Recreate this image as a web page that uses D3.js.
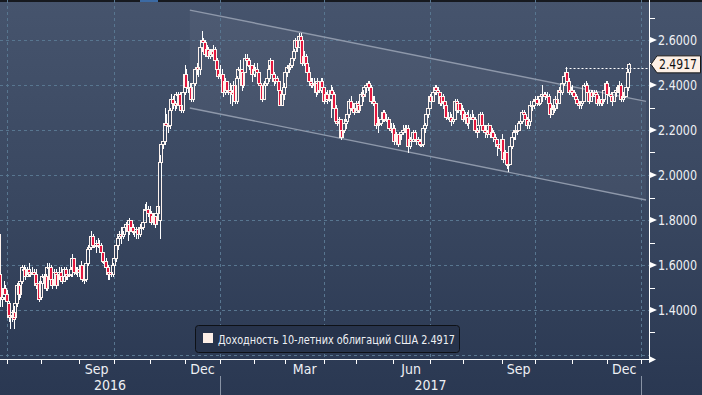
<!DOCTYPE html>
<html><head><meta charset="utf-8">
<script src="https://cdn.jsdelivr.net/npm/d3@7"></script>
<style>
html,body{margin:0;padding:0;background:#33415b;overflow:hidden}
svg{display:block}
text{font-family:"Liberation Sans Narrow","Arial Narrow","DejaVu Sans Condensed","Liberation Sans",sans-serif}
</style></head><body>
<svg id="chart" width="702" height="395"></svg>
<script>
// ---------- calendar (trading days) ----------
const firstDay = "2016-06-24";
const lastCalendarDay = "2018-01-05";
const holidays = ["2016-07-04","2016-09-05","2016-11-24","2016-12-26","2017-01-02","2017-01-16",
  "2017-02-20","2017-04-14","2017-05-29","2017-07-04","2017-09-04","2017-11-23","2017-12-25","2018-01-01"];

// ---------- daily OHLC, Jun 24 2016 .. Dec 20 2017 (one line per month) ----------
const openVals = [
1.74,1.56,1.45,1.46,1.50,
1.47,1.43,1.37,1.38,1.39,1.37,1.43,1.51,1.47,1.53,1.58,1.58,1.55,1.58,1.56,1.57,1.57,1.56,1.51,1.52,
1.46,1.52,1.55,1.55,1.50,1.59,1.59,1.54,1.51,1.57,1.51,1.56,1.57,1.55,1.53,1.58,1.55,1.56,1.56,1.58,1.63,1.57,1.57,
1.58,1.57,1.60,1.54,1.54,1.61,1.67,1.68,1.73,1.69,1.69,1.70,1.69,1.69,1.66,1.62,1.62,1.59,1.56,1.57,1.56,
1.60,1.63,1.69,1.72,1.74,1.73,1.74,1.77,1.78,1.75,1.80,1.77,1.75,1.75,1.76,1.74,1.77,1.77,1.79,1.85,1.85,
1.83,1.83,1.79,1.82,1.78,1.83,1.80,2.06,2.14,2.15,2.23,2.22,2.22,2.29,2.34,2.32,2.31,2.36,2.36,2.31,2.29,
2.37,2.45,2.39,2.39,2.39,2.34,2.41,2.47,2.48,2.47,2.57,2.60,2.59,2.54,2.56,2.53,2.55,2.54,2.56,2.51,2.47,
2.44,2.45,2.45,2.37,2.42,2.38,2.38,2.37,2.36,2.40,2.33,2.43,2.47,2.47,2.40,2.46,2.52,2.51,2.49,2.49,
2.45,2.47,2.47,2.46,2.41,2.40,2.34,2.40,2.41,2.43,2.47,2.51,2.45,2.42,2.43,2.42,2.38,2.31,2.36,
2.39,2.46,2.48,2.48,2.49,2.52,2.55,2.60,2.57,2.62,2.60,2.50,2.53,2.50,2.46,2.42,2.40,2.41,2.41,2.37,2.42,2.38,2.42,
2.39,2.33,2.36,2.34,2.34,2.38,2.36,2.30,2.24,2.23,2.25,2.17,2.20,2.23,2.24,2.27,2.33,2.30,2.30,
2.28,2.32,2.29,2.31,2.36,2.35,2.39,2.40,2.41,2.39,2.33,2.33,2.32,2.22,2.23,2.23,2.25,2.28,2.25,2.25,2.25,2.21,
2.20,2.21,2.15,2.18,2.14,2.18,2.19,2.20,2.21,2.21,2.13,2.16,2.15,2.19,2.16,2.16,2.15,2.14,2.14,2.21,2.22,2.27,
2.30,2.35,2.33,2.37,2.39,2.38,2.37,2.32,2.35,2.33,2.31,2.26,2.26,2.26,2.24,2.25,2.33,2.29,2.32,2.29,
2.29,2.25,2.27,2.23,2.26,2.26,2.26,2.25,2.20,2.19,2.22,2.27,2.22,2.20,2.19,2.18,2.22,2.18,2.19,2.17,2.16,2.13,2.14,
2.12,2.16,2.07,2.10,2.05,2.05,2.13,2.17,2.19,2.20,2.20,2.23,2.24,2.28,2.27,2.25,2.22,2.24,2.31,2.31,
2.33,2.34,2.32,2.32,2.35,2.36,2.36,2.35,2.35,2.32,2.27,2.30,2.30,2.34,2.32,2.38,2.37,2.41,2.44,2.46,2.42,2.37,
2.38,2.37,2.35,2.34,2.32,2.31,2.32,2.33,2.40,2.40,2.37,2.33,2.37,2.35,2.37,2.36,2.32,2.34,2.32,2.34,2.38,
2.41,2.36,2.36,2.35,2.33,2.37,2.38,2.38,2.40,2.34,2.35,2.35,2.39,2.46];
const highVals = [
1.75,1.57,1.48,1.53,1.51,
1.49,1.44,1.40,1.40,1.42,1.45,1.52,1.52,1.55,1.60,1.60,1.59,1.59,1.61,1.58,1.59,1.58,1.58,1.54,1.53,
1.53,1.56,1.56,1.56,1.61,1.61,1.60,1.56,1.58,1.58,1.57,1.59,1.59,1.56,1.59,1.59,1.57,1.58,1.59,1.65,1.63,1.59,1.59,
1.59,1.62,1.60,1.56,1.62,1.69,1.70,1.75,1.74,1.72,1.71,1.72,1.71,1.70,1.66,1.64,1.63,1.60,1.58,1.58,1.61,
1.64,1.70,1.73,1.75,1.77,1.75,1.78,1.79,1.78,1.81,1.80,1.78,1.77,1.77,1.77,1.78,1.78,1.80,1.87,1.88,1.86,
1.86,1.84,1.83,1.82,1.84,1.88,2.09,2.15,2.16,2.30,2.27,2.24,2.30,2.36,2.35,2.33,2.37,2.37,2.37,2.33,2.39,
2.49,2.47,2.42,2.41,2.40,2.42,2.48,2.50,2.49,2.58,2.64,2.61,2.60,2.58,2.57,2.56,2.56,2.58,2.57,2.52,2.48,
2.49,2.47,2.45,2.43,2.42,2.40,2.41,2.38,2.42,2.40,2.44,2.48,2.51,2.47,2.47,2.54,2.54,2.52,2.51,2.49,
2.50,2.48,2.50,2.46,2.43,2.40,2.42,2.43,2.44,2.49,2.52,2.51,2.46,2.45,2.44,2.42,2.39,2.37,2.41,
2.48,2.49,2.50,2.50,2.53,2.56,2.61,2.62,2.63,2.63,2.61,2.55,2.54,2.51,2.48,2.43,2.43,2.43,2.41,2.43,2.42,2.43,2.43,
2.39,2.37,2.38,2.36,2.40,2.39,2.37,2.31,2.26,2.26,2.25,2.22,2.25,2.25,2.29,2.34,2.35,2.32,2.31,
2.33,2.33,2.33,2.37,2.38,2.40,2.41,2.42,2.42,2.40,2.35,2.35,2.32,2.26,2.25,2.26,2.29,2.29,2.27,2.26,2.25,2.23,
2.23,2.22,2.19,2.18,2.19,2.20,2.22,2.22,2.22,2.22,2.17,2.17,2.20,2.20,2.18,2.17,2.16,2.16,2.22,2.23,2.28,2.31,
2.36,2.36,2.38,2.40,2.40,2.39,2.37,2.36,2.36,2.33,2.31,2.28,2.28,2.27,2.26,2.34,2.34,2.33,2.32,2.31,
2.30,2.28,2.28,2.29,2.27,2.29,2.27,2.26,2.21,2.23,2.28,2.28,2.24,2.22,2.20,2.23,2.22,2.21,2.20,2.18,2.16,2.16,2.15,
2.18,2.16,2.11,2.10,2.07,2.14,2.18,2.20,2.22,2.22,2.24,2.25,2.29,2.29,2.28,2.26,2.25,2.33,2.33,2.34,
2.35,2.35,2.34,2.36,2.40,2.37,2.37,2.37,2.36,2.33,2.31,2.31,2.35,2.35,2.39,2.39,2.42,2.45,2.48,2.46,2.43,2.39,
2.40,2.38,2.36,2.35,2.33,2.33,2.36,2.41,2.42,2.41,2.38,2.38,2.38,2.38,2.38,2.36,2.35,2.34,2.35,2.39,2.42,
2.42,2.39,2.37,2.36,2.38,2.39,2.40,2.42,2.41,2.37,2.37,2.40,2.47,2.50];
const lowVals = [
1.40,1.42,1.42,1.45,1.44,
1.38,1.35,1.32,1.35,1.32,1.36,1.42,1.45,1.46,1.52,1.56,1.54,1.55,1.55,1.55,1.56,1.55,1.50,1.49,1.44,
1.45,1.51,1.52,1.49,1.49,1.57,1.53,1.50,1.51,1.50,1.51,1.54,1.54,1.52,1.53,1.54,1.54,1.55,1.55,1.55,1.56,1.56,1.55,
1.55,1.55,1.53,1.52,1.53,1.60,1.64,1.67,1.68,1.68,1.66,1.68,1.67,1.63,1.61,1.60,1.58,1.54,1.54,1.55,1.55,
1.59,1.62,1.67,1.71,1.70,1.72,1.73,1.75,1.71,1.74,1.76,1.74,1.73,1.72,1.72,1.73,1.75,1.76,1.79,1.83,1.82,
1.81,1.78,1.79,1.77,1.78,1.82,1.72,1.99,2.12,2.14,2.20,2.19,2.21,2.28,2.30,2.29,2.30,2.34,2.30,2.28,2.28,
2.36,2.37,2.37,2.37,2.33,2.33,2.40,2.45,2.44,2.45,2.55,2.56,2.53,2.53,2.52,2.52,2.53,2.53,2.50,2.46,2.43,
2.43,2.43,2.35,2.36,2.37,2.36,2.32,2.31,2.35,2.32,2.32,2.42,2.45,2.38,2.39,2.46,2.50,2.47,2.46,2.42,
2.44,2.44,2.42,2.40,2.38,2.33,2.34,2.39,2.40,2.42,2.46,2.44,2.40,2.41,2.40,2.37,2.31,2.31,2.34,
2.38,2.44,2.46,2.47,2.48,2.51,2.55,2.55,2.57,2.59,2.49,2.49,2.49,2.46,2.42,2.39,2.39,2.39,2.35,2.36,2.37,2.37,2.38,
2.32,2.33,2.32,2.33,2.26,2.35,2.29,2.23,2.22,2.21,2.16,2.17,2.19,2.21,2.23,2.26,2.29,2.28,2.27,
2.28,2.28,2.28,2.31,2.33,2.35,2.37,2.38,2.37,2.32,2.31,2.31,2.21,2.19,2.22,2.22,2.24,2.24,2.24,2.23,2.20,2.19,
2.20,2.14,2.15,2.13,2.14,2.16,2.18,2.19,2.19,2.10,2.12,2.13,2.15,2.15,2.14,2.14,2.13,2.13,2.13,2.19,2.21,2.26,
2.30,2.32,2.33,2.36,2.36,2.33,2.31,2.31,2.30,2.30,2.25,2.25,2.25,2.22,2.23,2.25,2.28,2.28,2.27,2.28,
2.24,2.24,2.22,2.21,2.25,2.25,2.23,2.19,2.17,2.19,2.22,2.22,2.19,2.17,2.17,2.18,2.17,2.17,2.15,2.14,2.09,2.12,2.11,
2.11,2.06,2.06,2.03,2.02,2.05,2.12,2.16,2.16,2.18,2.20,2.22,2.23,2.26,2.24,2.21,2.21,2.23,2.29,2.30,
2.32,2.31,2.31,2.32,2.33,2.35,2.34,2.33,2.31,2.26,2.27,2.28,2.29,2.30,2.32,2.36,2.36,2.40,2.43,2.40,2.36,2.36,
2.36,2.34,2.32,2.31,2.30,2.30,2.31,2.33,2.39,2.36,2.32,2.33,2.34,2.35,2.35,2.31,2.31,2.31,2.31,2.33,2.37,
2.32,2.35,2.34,2.31,2.33,2.35,2.37,2.38,2.33,2.33,2.34,2.35,2.38,2.45];
const closeVals = [
1.56,1.45,1.46,1.50,1.47,
1.44,1.37,1.38,1.39,1.36,1.43,1.51,1.47,1.53,1.59,1.58,1.55,1.58,1.56,1.57,1.57,1.56,1.51,1.52,1.45,
1.52,1.55,1.55,1.50,1.59,1.59,1.54,1.51,1.57,1.51,1.56,1.57,1.55,1.53,1.58,1.55,1.56,1.56,1.58,1.63,1.57,1.57,1.58,
1.57,1.60,1.54,1.54,1.61,1.67,1.68,1.73,1.69,1.69,1.70,1.69,1.69,1.66,1.62,1.62,1.59,1.56,1.57,1.56,1.60,
1.63,1.69,1.72,1.74,1.73,1.74,1.77,1.78,1.75,1.80,1.77,1.75,1.75,1.76,1.74,1.77,1.77,1.79,1.85,1.85,1.83,
1.83,1.79,1.82,1.78,1.83,1.86,2.06,2.14,2.15,2.23,2.22,2.22,2.29,2.34,2.32,2.31,2.36,2.36,2.31,2.29,2.37,
2.45,2.39,2.39,2.39,2.34,2.41,2.47,2.48,2.47,2.57,2.60,2.59,2.54,2.56,2.53,2.55,2.54,2.56,2.51,2.47,2.44,
2.45,2.45,2.37,2.42,2.38,2.38,2.37,2.36,2.40,2.33,2.43,2.47,2.47,2.40,2.46,2.52,2.51,2.49,2.49,2.45,
2.47,2.47,2.46,2.41,2.40,2.34,2.40,2.41,2.43,2.47,2.51,2.45,2.42,2.43,2.42,2.38,2.31,2.36,2.39,
2.46,2.48,2.48,2.49,2.52,2.55,2.60,2.57,2.62,2.60,2.50,2.53,2.50,2.46,2.42,2.40,2.41,2.41,2.37,2.42,2.38,2.42,2.39,
2.33,2.36,2.34,2.34,2.38,2.36,2.30,2.24,2.23,2.25,2.17,2.20,2.23,2.24,2.27,2.33,2.30,2.30,2.28,
2.32,2.29,2.31,2.36,2.35,2.39,2.40,2.41,2.39,2.33,2.33,2.32,2.22,2.23,2.23,2.25,2.28,2.25,2.25,2.25,2.21,2.20,
2.21,2.15,2.18,2.14,2.18,2.19,2.20,2.21,2.21,2.13,2.16,2.15,2.19,2.16,2.16,2.15,2.14,2.14,2.21,2.22,2.27,2.30,
2.35,2.33,2.37,2.39,2.38,2.37,2.32,2.35,2.33,2.31,2.26,2.26,2.26,2.24,2.25,2.33,2.29,2.32,2.29,2.29,
2.25,2.27,2.23,2.26,2.26,2.26,2.25,2.20,2.19,2.22,2.27,2.22,2.20,2.19,2.18,2.22,2.18,2.19,2.17,2.16,2.13,2.14,2.12,
2.16,2.07,2.10,2.05,2.05,2.13,2.17,2.19,2.20,2.20,2.23,2.24,2.28,2.27,2.25,2.22,2.24,2.31,2.31,2.33,
2.34,2.32,2.32,2.35,2.36,2.36,2.35,2.35,2.32,2.27,2.30,2.30,2.34,2.32,2.38,2.37,2.41,2.44,2.46,2.42,2.37,2.38,
2.37,2.35,2.34,2.32,2.31,2.32,2.33,2.40,2.40,2.37,2.33,2.37,2.35,2.37,2.36,2.32,2.34,2.32,2.34,2.38,2.41,
2.36,2.36,2.35,2.33,2.37,2.38,2.38,2.40,2.34,2.35,2.35,2.39,2.46,2.4917];

// ---------- axes / annotations ----------
const yMajorTicks = [1.4, 1.6, 1.8, 2.0, 2.2, 2.4, 2.6];
const yMinorTicks = [1.3, 1.5, 1.7, 1.9, 2.1, 2.3, 2.5, 2.7];
const yGridValues = [1.2, 1.4, 1.6, 1.8, 2.0, 2.2, 2.4, 2.6];
const tickMonths = ["2016-07","2016-08","2016-09","2016-10","2016-11","2016-12","2017-01","2017-02","2017-03",
  "2017-04","2017-05","2017-06","2017-07","2017-08","2017-09","2017-10","2017-11","2017-12","2018-01"];
const gridMonths = ["2016-07","2016-10","2017-01","2017-04","2017-07","2017-10","2018-01"];
const labelMonths = ["2016-09","2016-12","2017-03","2017-06","2017-09","2017-12"];
const labelTexts = ["Sep","Dec","Mar","Jun","Sep","Dec"];
const yearLabels = ["2016","2017"];
const yearStarts = ["2017-01","2018-01"];
const channelDates = ["2016-12-06","2018-01-05"];
const channelUpper = [2.733, 2.327];
const channelLower = [2.298, 1.889];
const prevHighDate = "2017-10-26";
const prevHighValue = 2.475;
const seriesName = "Доходность 10-летних облигаций США";

// ---------- build calendar ----------
const fmt = d3.utcFormat("%Y-%m-%d");
const parse = d3.utcParse("%Y-%m-%d");
const holidaySet = new Set(holidays);
const calendar = d3.utcDay.range(parse(firstDay), d3.utcDay.offset(parse(lastCalendarDay), 1))
  .filter(d => d.getUTCDay() !== 0 && d.getUTCDay() !== 6 && !holidaySet.has(fmt(d)))
  .map(fmt);
const idxOf = s => calendar.indexOf(s);
const monthStartIdx = m => calendar.findIndex(s => s.startsWith(m));

const data = closeVals.map((c, i) => ({i, date: calendar[i], o: openVals[i], h: highVals[i], l: lowVals[i], c}));

// ---------- layout ----------
const W = 702, H = 395;
const plotRight = 649, plotBottom = 359;
const x = d3.scaleLinear().domain([monthStartIdx("2016-07"), monthStartIdx("2018-01")]).range([7, 641]);
const y = d3.scaleLinear().domain([1.2, 2.6]).range([355, 40]);

const svg = d3.select("#chart");
const defs = svg.append("defs");
const bg = defs.append("linearGradient").attr("id", "bg").attr("x1", 0).attr("y1", 0).attr("x2", 0).attr("y2", 1);
bg.append("stop").attr("offset", "0%").attr("stop-color", "#46546d");
bg.append("stop").attr("offset", "55%").attr("stop-color", "#38465f");
bg.append("stop").attr("offset", "100%").attr("stop-color", "#2a3852");
defs.append("clipPath").attr("id", "plotclip").append("rect")
  .attr("x", 0).attr("y", 0).attr("width", plotRight).attr("height", plotBottom);

svg.append("rect").attr("width", W).attr("height", H).attr("fill", "url(#bg)");
// top strip
svg.append("rect").attr("x", 0).attr("y", 0).attr("width", W).attr("height", 2).attr("fill", "#16191f");
svg.append("rect").attr("x", 140).attr("y", 0).attr("width", 18).attr("height", 2).attr("fill", "#3c6aa3");

const plot = svg.append("g").attr("clip-path", "url(#plotclip)");

// channel fill
const chPts = [
  [x(idxOf(channelDates[0])), y(channelUpper[0])],
  [x(idxOf(channelDates[1])), y(channelUpper[1])],
  [x(idxOf(channelDates[1])), y(channelLower[1])],
  [x(idxOf(channelDates[0])), y(channelLower[0])]
];
plot.append("path").attr("d", d3.line()(chPts) + "Z").attr("fill", "rgba(255,255,255,0.045)");

// grid
const gridColor = "#587690";
plot.selectAll(".hg").data(yGridValues).join("line")
  .attr("x1", 0).attr("x2", plotRight)
  .attr("y1", d => Math.round(y(d)) + 0.5).attr("y2", d => Math.round(y(d)) + 0.5)
  .attr("stroke", gridColor).attr("stroke-dasharray", "3,3");
plot.selectAll(".vg").data(gridMonths).join("line")
  .attr("x1", d => Math.round(x(monthStartIdx(d))) + 0.5).attr("x2", d => Math.round(x(monthStartIdx(d))) + 0.5)
  .attr("y1", 0).attr("y2", plotBottom)
  .attr("stroke", gridColor).attr("stroke-dasharray", "3,3");

// channel lines
[channelUpper, channelLower].forEach(vals => {
  plot.append("line")
    .attr("x1", x(idxOf(channelDates[0]))).attr("y1", y(vals[0]))
    .attr("x2", x(idxOf(channelDates[1]))).attr("y2", y(vals[1]))
    .attr("stroke", "#8e98aa").attr("stroke-width", 1.4);
});

// candles
const red = "#e3173e";
const cg = plot.append("g").attr("shape-rendering", "crispEdges");
data.forEach(d => {
  const bx = Math.round(x(d.i));
  const top = Math.round(y(Math.max(d.o, d.c))) + 0.5;
  let bot = Math.round(y(Math.min(d.o, d.c))) + 0.5;
  if (bot - top < 1) bot = top + 1;
  const hy = Math.round(y(d.h)), ly = Math.round(y(d.l));
  const g = cg.append("g");
  if (hy < top) g.append("line").attr("x1", bx + 0.5).attr("x2", bx + 0.5).attr("y1", hy).attr("y2", top).attr("stroke", "#fff");
  if (ly > bot) g.append("line").attr("x1", bx + 0.5).attr("x2", bx + 0.5).attr("y1", bot).attr("y2", ly + 1).attr("stroke", "#fff");
  g.append("rect").attr("x", bx - 1.5).attr("width", 3).attr("y", top).attr("height", bot - top)
    .attr("fill", d.c < d.o ? red : "none").attr("stroke", "#fdf3ee").attr("stroke-width", 1);
});

// previous-high dotted line
plot.append("line")
  .attr("x1", x(idxOf(prevHighDate))).attr("x2", plotRight)
  .attr("y1", Math.round(y(prevHighValue)) + 0.5).attr("y2", Math.round(y(prevHighValue)) + 0.5)
  .attr("stroke", "#fff").attr("stroke-dasharray", "2,2");

// ---------- right axis ----------
const ax = svg.append("g");
ax.append("line").attr("x1", plotRight + 0.5).attr("x2", plotRight + 0.5).attr("y1", 0).attr("y2", plotBottom + 1)
  .attr("stroke", "#fff");
ax.selectAll(".mt").data(yMinorTicks).join("line")
  .attr("x1", plotRight).attr("x2", plotRight + 6)
  .attr("y1", d => Math.round(y(d)) + 0.5).attr("y2", d => Math.round(y(d)) + 0.5).attr("stroke", "#fff");
ax.selectAll(".Mt").data(yMajorTicks).join("path")
  .attr("d", d => { const yy = y(d); return `M${plotRight + 1},${yy - 3}L${plotRight + 8},${yy}L${plotRight + 1},${yy + 3}Z`; })
  .attr("fill", "#fff");
ax.selectAll(".yl").data(yMajorTicks).join("text")
  .attr("x", 658).attr("y", d => y(d)).attr("dy", "0.36em")
  .attr("fill", "#eef0f4").attr("font-size", 14)
  .attr("textLength", 39).attr("lengthAdjust", "spacingAndGlyphs")
  .text(d => d3.format(".4f")(d));

// ---------- bottom axis ----------
ax.append("line").attr("x1", 0).attr("x2", plotRight + 1).attr("y1", plotBottom + 0.5).attr("y2", plotBottom + 0.5)
  .attr("stroke", "#fff");
ax.append("path").attr("d", `M${plotRight},${plotBottom - 3}L${plotRight + 7},${plotBottom + 0.5}L${plotRight},${plotBottom + 4}Z`).attr("fill", "#fff");
ax.selectAll(".xt").data(tickMonths).join("line")
  .attr("x1", d => Math.round(x(monthStartIdx(d))) + 0.5).attr("x2", d => Math.round(x(monthStartIdx(d))) + 0.5)
  .attr("y1", plotBottom).attr("y2", plotBottom + 5).attr("stroke", "#fff");
const nextMonth = m => { const d = d3.utcMonth.offset(parse(m + "-01"), 1); return d3.utcFormat("%Y-%m")(d); };
ax.selectAll(".xl").data(labelMonths).join("text")
  .attr("x", d => (x(monthStartIdx(d)) + x(monthStartIdx(nextMonth(d)))) / 2)
  .attr("y", 374).attr("text-anchor", "middle")
  .attr("fill", "#eef0f4").attr("font-size", 14)
  .text((d, i) => labelTexts[i]);
const yearBounds = [0, x(monthStartIdx(yearStarts[0])), x(monthStartIdx(yearStarts[1]))];
ax.selectAll(".yrl").data(yearLabels).join("text")
  .attr("x", (d, i) => (yearBounds[i] + yearBounds[i + 1]) / 2)
  .attr("y", 390).attr("text-anchor", "middle")
  .attr("fill", "#eef0f4").attr("font-size", 14)
  .text(d => d);
ax.selectAll(".ysep").data(yearStarts).join("line")
  .attr("x1", d => Math.round(x(monthStartIdx(d))) + 0.5).attr("x2", d => Math.round(x(monthStartIdx(d))) + 0.5)
  .attr("y1", 376).attr("y2", H).attr("stroke", "#8893a5");

// ---------- last value tag ----------
const lastVal = closeVals[closeVals.length - 1];
const ty = y(lastVal);
svg.append("path")
  .attr("d", `M${plotRight + 2},${ty}L${plotRight + 8},${ty - 8.5}L${W - 1.5},${ty - 8.5}L${W - 1.5},${ty + 8.5}L${plotRight + 8},${ty + 8.5}Z`)
  .attr("fill", "#fdf0e6").attr("stroke", "#1a1a1a").attr("stroke-width", 1);
svg.append("text").attr("x", 659).attr("y", ty).attr("dy", "0.36em")
  .attr("fill", "#111").attr("font-size", 14)
  .attr("textLength", 38).attr("lengthAdjust", "spacingAndGlyphs")
  .text(d3.format(".4f")(lastVal));

// ---------- legend ----------
const lg = svg.append("g");
lg.append("rect").attr("x", 195.5).attr("y", 325.5).attr("width", 264).attr("height", 27).attr("rx", 3)
  .attr("fill", "#27334b").attr("stroke", "#0e1116");
lg.append("rect").attr("x", 203).attr("y", 333).attr("width", 10).attr("height", 10).attr("fill", "#fdeee6");
lg.append("text").attr("x", 218).attr("y", 339).attr("dy", "0.36em")
  .attr("fill", "#eef0f4").attr("font-size", 13)
  .attr("textLength", 237).attr("lengthAdjust", "spacingAndGlyphs")
  .text(seriesName + "  " + d3.format(".4f")(lastVal));
</script>
</body></html>
